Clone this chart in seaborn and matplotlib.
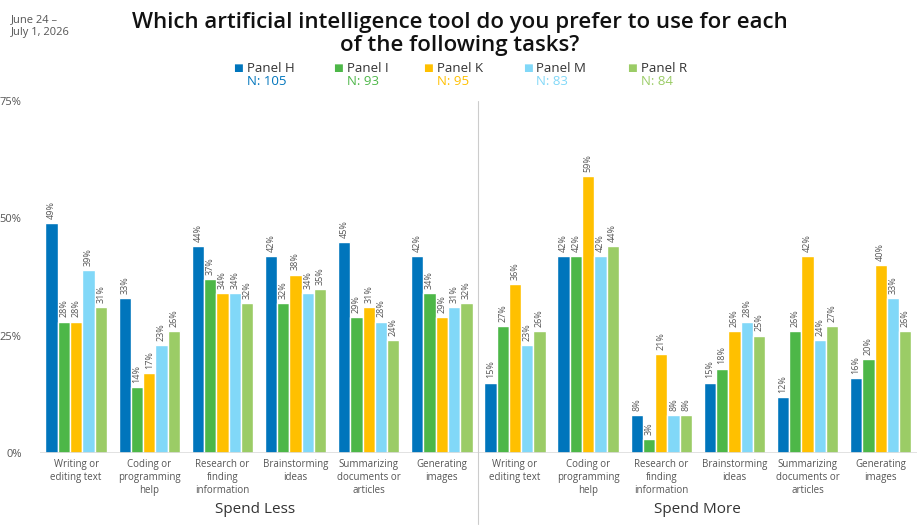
import numpy as np
import pandas as pd
import seaborn as sns
import matplotlib.pyplot as plt

# chart data
tasks = ["Writing or\nediting text", "Coding or\nprogramming\nhelp", "Research or\nfinding\ninformation",
         "Brainstorming\nideas", "Summarizing\ndocuments or\narticles", "Generating\nimages"]
sections = ["Spend Less", "Spend More"]
panels = ["Panel H", "Panel I", "Panel K", "Panel M", "Panel R"]
panel_n = [105, 93, 95, 83, 84]
colors = ["#0075BC", "#4DB748", "#FFC000", "#81D8F8", "#9BCC66"]

# values per panel, 6 "spend less" tasks then 6 "spend more" tasks
panel_h = [49, 33, 44, 42, 45, 42, 15, 42, 8, 15, 12, 16]
panel_i = [28, 14, 37, 32, 29, 34, 27, 42, 3, 18, 26, 20]
panel_k = [28, 17, 34, 38, 31, 29, 36, 59, 21, 26, 42, 40]
panel_m = [39, 23, 34, 34, 28, 31, 23, 42, 8, 28, 24, 33]
panel_r = [31, 26, 32, 35, 24, 32, 26, 44, 8, 25, 27, 26]

keys = [s + "|" + t for s in sections for t in tasks]
rows = []
for name, vals in zip(panels, [panel_h, panel_i, panel_k, panel_m, panel_r]):
    for k, v in zip(keys, vals):
        rows.append({"group": k, "panel": name, "value": v})
df = pd.DataFrame(rows)

sns.set_style("white")
plt.rcParams['font.family'] = ['Open Sans', 'DejaVu Sans']

fig = plt.figure(figsize=(9.2, 5.25), dpi=100)
ax = fig.add_axes([0.043, 0.137, 0.954, 0.671])

sns.barplot(data=df, x="group", y="value", hue="panel", order=keys, hue_order=panels,
            palette=colors, saturation=1, width=0.84, edgecolor="white", linewidth=1,
            legend=False, ax=ax)

for cont in ax.containers:
    ax.bar_label(cont, labels=[f"{v:.0f}%" for v in cont.datavalues], rotation=90,
                 padding=3, fontsize=6.5, color="#555555")

ax.set_ylim(0, 75)
ax.set_xlim(-0.5, 11.5)
ax.set_yticks([0, 25, 50, 75])
ax.set_yticklabels(["0%", "25%", "50%", "75%"], fontsize=8, color="#555555")
ax.set_xticks(range(12))
ax.set_xticklabels(tasks * 2, fontsize=7, color="#555555", linespacing=1.25)
ax.tick_params(axis="x", length=0, pad=4)
ax.tick_params(axis="y", length=0, pad=13)
ax.set_xlabel("")
ax.set_ylabel("")
for sp in ax.spines.values():
    sp.set_visible(False)
ax.axhline(0, color="#dddddd", linewidth=1.2)
ax.axvline(5.5, ymin=-0.2, ymax=1.0, color="#cccccc", linewidth=0.8, clip_on=False)

ax.text(2.45, -0.16, "Spend Less", transform=ax.get_xaxis_transform(), ha="center",
        va="center", fontsize=11, color="#333333")
ax.text(8.5, -0.16, "Spend More", transform=ax.get_xaxis_transform(), ha="center",
        va="center", fontsize=11, color="#333333")

fig.text(0.5, 0.935, "Which artificial intelligence tool do you prefer to use for each\nof the following tasks?",
         ha="center", va="center", fontsize=16, fontweight="semibold", color="#111111", linespacing=1.15)
fig.text(0.012, 0.95, "June 24 \u2013\nJuly 1, 2026", ha="left", va="center", fontsize=8,
         color="#555555", linespacing=1.3)

# legend with N counts
lx = [0.253, 0.362, 0.460, 0.568, 0.682]
for x, name, n, c in zip(lx, panels, panel_n, colors):
    fig.text(x, 0.870, "\u25a0", color=c, fontsize=7.5, ha="left", va="center")
    fig.text(x + 0.015, 0.870, name, color="#333333", fontsize=9.5, ha="left", va="center")
    fig.text(x + 0.015, 0.845, f"N: {n}", color=c, fontsize=9.5, ha="left", va="center")

fig.savefig("out.png", dpi=100)
